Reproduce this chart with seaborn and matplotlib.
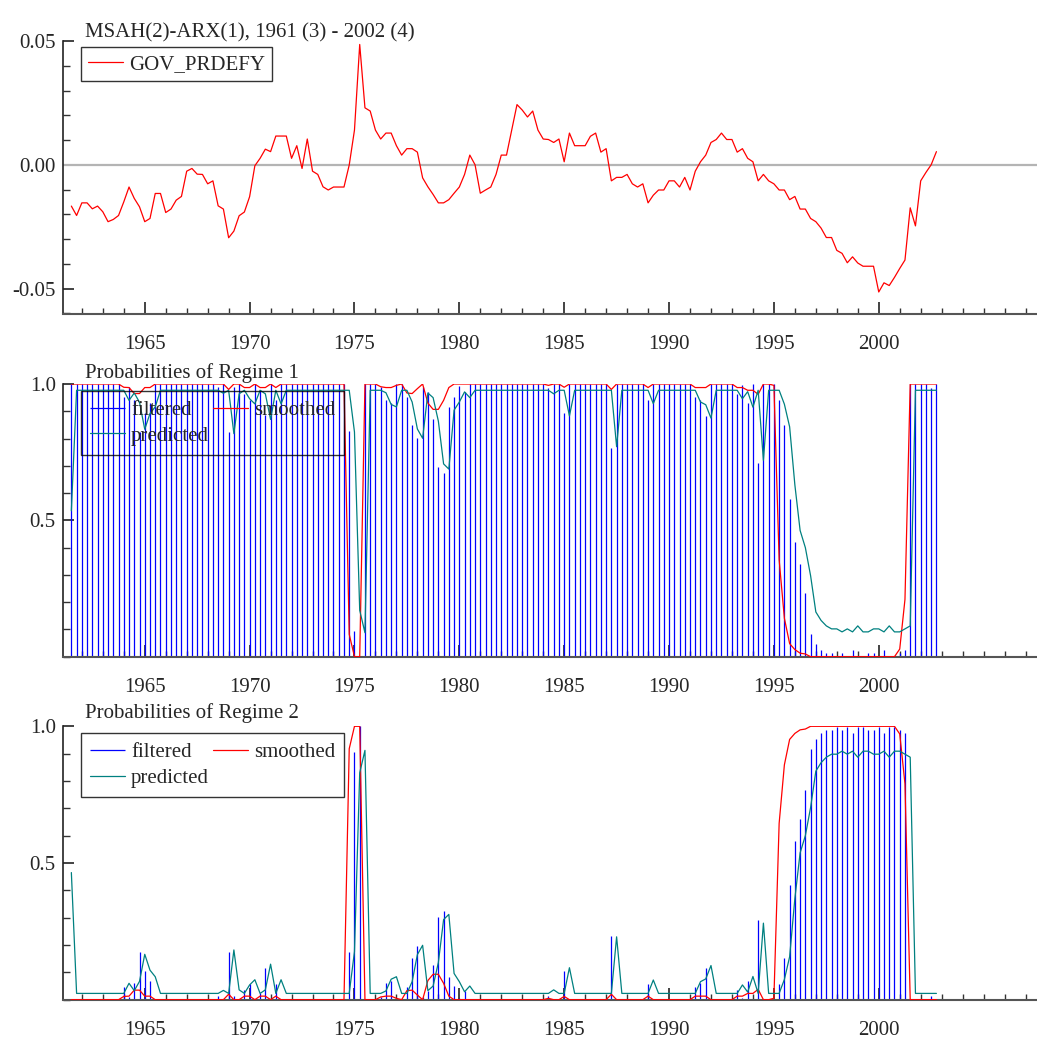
import matplotlib
matplotlib.use("Agg")
import matplotlib.pyplot as plt
from matplotlib.ticker import MultipleLocator, FixedLocator
import numpy as np
import pandas as pd
import seaborn as sns

# quarterly sample 1961(3) - 2002(4)
start_year = 1961.5
n_obs = 166

gov_prdefy = [
    -0.0167, -0.0205, -0.0154, -0.0154, -0.0178, -0.0167, -0.0190, -0.0230, -0.0221, -0.0205,
    -0.0150, -0.0090, -0.0136, -0.0170, -0.0230, -0.0217, -0.0116, -0.0116, -0.0193, -0.0179,
    -0.0143, -0.0128, -0.0026, -0.0015, -0.0038, -0.0039, -0.0077, -0.0065, -0.0166, -0.0179,
    -0.0295, -0.0268, -0.0206, -0.0191, -0.0129, -0.0004, 0.0026, 0.0063, 0.0053, 0.0116,
    0.0116, 0.0116, 0.0026, 0.0077, -0.0015, 0.0104, -0.0026, -0.0039, -0.0089, -0.0102,
    -0.0090, -0.0090, -0.0090, -0.0001, 0.0140, 0.0486, 0.0230, 0.0217, 0.0140, 0.0104,
    0.0128, 0.0128, 0.0077, 0.0039, 0.0065, 0.0065, 0.0051, -0.0053, -0.0089, -0.0120,
    -0.0154, -0.0154, -0.0141, -0.0115, -0.0090, -0.0039, 0.0039, 0.0000, -0.0115, -0.0102,
    -0.0090, -0.0039, 0.0039, 0.0039, 0.0140, 0.0243, 0.0221, 0.0193, 0.0217, 0.0140,
    0.0104, 0.0102, 0.0090, 0.0104, 0.0012, 0.0128, 0.0077, 0.0077, 0.0077, 0.0115,
    0.0128, 0.0051, 0.0065, -0.0065, -0.0051, -0.0051, -0.0039, -0.0077, -0.0090, -0.0077,
    -0.0154, -0.0123, -0.0102, -0.0102, -0.0065, -0.0065, -0.0090, -0.0051, -0.0102, -0.0026,
    0.0012, 0.0039, 0.0090, 0.0102, 0.0128, 0.0102, 0.0102, 0.0051, 0.0065, 0.0026,
    0.0012, -0.0065, -0.0039, -0.0065, -0.0077, -0.0102, -0.0102, -0.0141, -0.0128, -0.0179,
    -0.0179, -0.0217, -0.0230, -0.0256, -0.0294, -0.0294, -0.0346, -0.0358, -0.0396, -0.0372,
    -0.0397, -0.0410, -0.0410, -0.0410, -0.0514, -0.0477, -0.0488, -0.0455, -0.0419, -0.0385,
    -0.0174, -0.0247, -0.0065, -0.0031, 0.0000, 0.0053,
]

# regime 2 probabilities (regime 1 is the complement)
filtered_r2 = [
    0, 0, 0, 0, 0, 0, 0, 0, 0, 0,
    0.047, 0.010, 0.060, 0.175, 0.105, 0.070, 0, 0, 0, 0,
    0, 0, 0, 0, 0, 0, 0, 0, 0.012, 0,
    0.175, 0.012, 0, 0.035, 0.057, 0, 0.023, 0.115, 0, 0.057,
    0, 0, 0, 0, 0, 0, 0, 0, 0, 0,
    0, 0, 0, 0.174, 0.906, 1.0, 0, 0, 0, 0.010,
    0.060, 0.070, 0, 0, 0.048, 0.152, 0.198, 0.010, 0.030, 0.128,
    0.303, 0.326, 0.083, 0.049, 0.007, 0.030, 0, 0, 0, 0,
    0, 0, 0, 0, 0, 0, 0, 0, 0, 0,
    0, 0.015, 0, 0, 0.106, 0, 0, 0, 0, 0,
    0, 0, 0, 0.233, 0, 0, 0, 0, 0, 0,
    0.057, 0, 0, 0, 0, 0, 0, 0, 0, 0.048,
    0.060, 0.116, 0, 0, 0, 0, 0, 0.035, 0.005, 0.070,
    0, 0.290, 0, 0, 0, 0.057, 0.152, 0.420, 0.580, 0.660,
    0.767, 0.917, 0.952, 0.974, 0.987, 0.987, 0.999, 0.987, 0.999, 0.974,
    0.999, 0.999, 0.987, 0.987, 0.999, 0.974, 0.999, 0.999, 0.987, 0.974,
    0, 0, 0, 0, 0.013, 0,
]

predicted_r2 = [
    0.465, 0.023, 0.023, 0.023, 0.023, 0.023, 0.023, 0.023, 0.023, 0.023,
    0.023, 0.060, 0.033, 0.067, 0.166, 0.108, 0.084, 0.023, 0.023, 0.023,
    0.023, 0.023, 0.023, 0.023, 0.023, 0.023, 0.023, 0.023, 0.023, 0.034,
    0.023, 0.182, 0.036, 0.023, 0.054, 0.073, 0.023, 0.036, 0.130, 0.023,
    0.073, 0.023, 0.023, 0.023, 0.023, 0.023, 0.023, 0.023, 0.023, 0.023,
    0.023, 0.023, 0.023, 0.023, 0.176, 0.830, 0.912, 0.023, 0.023, 0.023,
    0.032, 0.075, 0.084, 0.023, 0.023, 0.066, 0.165, 0.199, 0.033, 0.050,
    0.136, 0.293, 0.312, 0.096, 0.066, 0.029, 0.050, 0.023, 0.023, 0.023,
    0.023, 0.023, 0.023, 0.023, 0.023, 0.023, 0.023, 0.023, 0.023, 0.023,
    0.023, 0.023, 0.036, 0.023, 0.023, 0.117, 0.023, 0.023, 0.023, 0.023,
    0.023, 0.023, 0.023, 0.023, 0.230, 0.023, 0.023, 0.023, 0.023, 0.023,
    0.023, 0.072, 0.023, 0.023, 0.023, 0.023, 0.023, 0.023, 0.023, 0.023,
    0.066, 0.076, 0.125, 0.023, 0.023, 0.023, 0.023, 0.023, 0.054, 0.028,
    0.085, 0.023, 0.280, 0.023, 0.023, 0.023, 0.074, 0.157, 0.370, 0.537,
    0.600, 0.703, 0.836, 0.867, 0.887, 0.898, 0.898, 0.909, 0.898, 0.909,
    0.887, 0.909, 0.909, 0.898, 0.898, 0.909, 0.887, 0.909, 0.909, 0.898,
    0.887, 0.023, 0.023, 0.023, 0.023, 0.023,
]

smoothed_r2 = [
    0, 0, 0, 0, 0, 0, 0, 0, 0, 0,
    0.012, 0.013, 0.035, 0.035, 0.013, 0.013, 0, 0, 0, 0,
    0, 0, 0, 0, 0, 0, 0, 0, 0, 0,
    0.020, 0, 0, 0.013, 0.013, 0, 0.013, 0.013, 0, 0.013,
    0, 0, 0, 0, 0, 0, 0, 0, 0, 0,
    0, 0, 0, 0.918, 1.0, 1.0, 0, 0, 0, 0.010,
    0.013, 0.013, 0.005, 0, 0.033, 0.035, 0.017, 0, 0.070, 0.093,
    0.093, 0.060, 0.013, 0, 0, 0, 0, 0, 0, 0,
    0, 0, 0, 0, 0, 0, 0, 0, 0, 0,
    0, 0.005, 0, 0, 0.012, 0, 0, 0, 0, 0,
    0, 0, 0, 0.020, 0, 0, 0, 0, 0, 0,
    0.013, 0, 0, 0, 0, 0, 0, 0, 0, 0.013,
    0.013, 0.013, 0, 0, 0, 0, 0, 0.013, 0.013, 0.023,
    0.023, 0.038, 0, 0, 0.005, 0.645, 0.859, 0.952, 0.974, 0.987,
    0.990, 1.0, 1.0, 1.0, 1.0, 1.0, 1.0, 1.0, 1.0, 1.0,
    1.0, 1.0, 1.0, 1.0, 1.0, 1.0, 1.0, 1.0, 0.972, 0.790,
    0, 0, 0, 0, 0, 0,
]

title_main = "MSAH(2)-ARX(1), 1961 (3) - 2002 (4)"
titles_prob = ["Probabilities of Regime 1", "Probabilities of Regime 2"]

time = start_year + 0.25 * np.arange(n_obs)
df = pd.DataFrame({
    "time": time,
    "gov": gov_prdefy,
    "filt2": filtered_r2,
    "pred2": predicted_r2,
    "smth2": smoothed_r2,
})
df["filt1"] = 1 - df["filt2"]
df["pred1"] = 1 - df["pred2"]
df["smth1"] = 1 - df["smth2"]

sns.set_style("ticks")
plt.rcParams["font.family"] = ["Liberation Serif", "DejaVu Serif"]
plt.rcParams["font.size"] = 15

W, H = 1037, 1042
fig = plt.figure(figsize=(W / 100, H / 100), dpi=100)

x0 = 62.7
xl = (1965 - (152.3 - x0) / 22.9, 1965 + (W - x0) / 22.9)


def make_axes(top_px, bottom_px):
    return fig.add_axes([x0 / W, 1 - bottom_px / H, (W - x0) / W, (bottom_px - top_px) / H])


def style_axes(ax):
    for side in ["top", "right"]:
        ax.spines[side].set_visible(False)
    ax.spines["left"].set_color("#222222")
    ax.spines["bottom"].set_color("#555555")
    ax.spines["left"].set_linewidth(1.2)
    ax.spines["bottom"].set_linewidth(1.5)
    ax.set_xlim(*xl)
    ax.xaxis.set_major_locator(FixedLocator(np.arange(1965, 2001, 5)))
    ax.xaxis.set_minor_locator(MultipleLocator(1))
    ax.tick_params(axis="both", which="both", bottom=True, left=True, top=False, right=False)
    ax.tick_params(axis="x", which="major", direction="in", length=9, width=1.2,
                   color="#222222", pad=15, labelsize=15)
    ax.tick_params(axis="x", which="minor", direction="in", length=4, width=1.0,
                   color="#333333")
    ax.tick_params(axis="y", which="major", direction="in", length=8, width=1.2,
                   color="#222222", pad=5, labelsize=15)
    ax.tick_params(axis="y", which="minor", direction="in", length=5, width=1.0,
                   color="#333333")
    ax.set_xlabel("")
    ax.set_ylabel("")


def frame_legend(lg):
    lg.get_frame().set_edgecolor("black")
    lg.get_frame().set_linewidth(1.0)
    lg.get_frame().set_facecolor("none")


# ---- panel 1: data ----
ax1 = make_axes(41.0, 314.0)
ax1.axhline(0, color="#b4b4b4", lw=1.6, zorder=1)
sns.lineplot(data=df, x="time", y="gov", ax=ax1, color="#ff0000", lw=0.9,
             label="GOV_PRDEFY", zorder=3)
style_axes(ax1)
ax1.set_ylim(-0.0603, 0.05)
ax1.yaxis.set_major_locator(FixedLocator([-0.05, 0.0, 0.05]))
ax1.yaxis.set_minor_locator(MultipleLocator(0.01))
ax1.set_yticklabels(["-0.05", "0.00", "0.05"])
leg = ax1.legend(loc="upper left", bbox_to_anchor=(18.3 / 974.3, 1 - 6 / 273), borderaxespad=0,
                 frameon=True, fancybox=False, handlelength=1.65, handletextpad=0.3,
                 borderpad=0.35, fontsize=15)
frame_legend(leg)

fig.text(85 / W, 1 - 37 / H, title_main, fontsize=15, va="baseline", ha="left")


# ---- panels 2 and 3: regime probabilities ----
def prob_panel(top_px, bottom_px, filt, smth, pred, title, title_base):
    ax = make_axes(top_px, bottom_px)
    hf = ax.vlines(df["time"], 0, df[filt], color="#0000ff", lw=0.9, zorder=2, label="filtered")
    sns.lineplot(data=df, x="time", y=smth, ax=ax, color="#ff0000", lw=0.9,
                 label="smoothed", zorder=3)
    sns.lineplot(data=df, x="time", y=pred, ax=ax, color="#008080", lw=0.9,
                 label="predicted", zorder=4)
    style_axes(ax)
    ax.set_ylim(0, 1)
    ax.yaxis.set_major_locator(FixedLocator([0.5, 1.0]))
    ax.yaxis.set_minor_locator(MultipleLocator(0.1))
    ax.set_yticklabels(["0.5", "1.0"])
    lines = ax.get_lines()
    handles = [hf, lines[1], lines[0]]
    labels = ["filtered", "predicted", "smoothed"]
    lg = ax.legend(handles, labels, ncol=2, loc="upper left",
                   bbox_to_anchor=(18.3 / 974.3, 1 - 7 / 273), borderaxespad=0,
                   frameon=True, fancybox=False, handlelength=1.65, handletextpad=0.3,
                   borderpad=0.45, labelspacing=0.3, columnspacing=0.2, fontsize=15)
    frame_legend(lg)
    fig.text(85 / W, 1 - title_base / H, title, fontsize=15, va="baseline", ha="left")
    return ax


prob_panel(384.0, 656.7, "filt1", "smth1", "pred1", titles_prob[0], 378)
prob_panel(726.3, 999.7, "filt2", "smth2", "pred2", titles_prob[1], 718)

fig.savefig("out.png", dpi=100)
